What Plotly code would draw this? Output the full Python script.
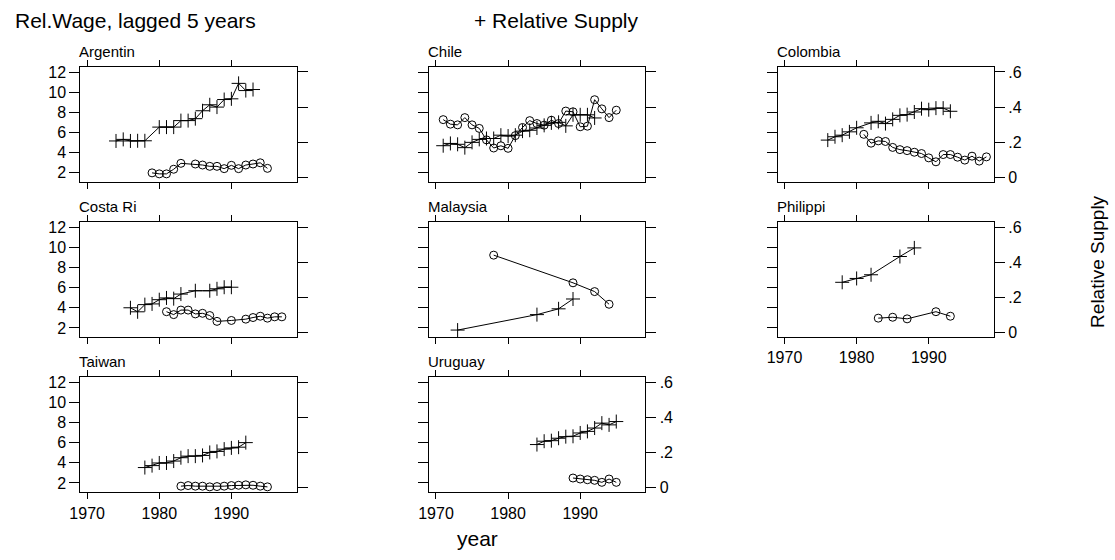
import plotly.graph_objects as go

# ---------------- data ----------------
countries = ["Argentin", "Chile", "Colombia", "Costa Ri", "Malaysia", "Philippi", "Taiwan", "Uruguay"]

# Relative Supply (+ markers, right axis)
arg_sup_years = [1974, 1975, 1976, 1977, 1978, 1980, 1981, 1982, 1983, 1984, 1985, 1986, 1987, 1988, 1989, 1990, 1991, 1992, 1993]
arg_sup = [0.207, 0.216, 0.207, 0.208, 0.208, 0.286, 0.286, 0.286, 0.323, 0.323, 0.334, 0.379, 0.413, 0.400, 0.443, 0.447, 0.535, 0.494, 0.500]
chl_sup_years = [1971, 1972, 1973, 1974, 1975, 1976, 1977, 1978, 1979, 1980, 1981, 1982, 1983, 1984, 1985, 1986, 1987, 1988, 1989, 1990, 1991, 1992]
chl_sup = [0.180, 0.193, 0.188, 0.169, 0.199, 0.216, 0.221, 0.221, 0.240, 0.235, 0.240, 0.263, 0.268, 0.281, 0.296, 0.310, 0.313, 0.293, 0.356, 0.356, 0.356, 0.338]
col_sup_years = [1976, 1977, 1978, 1979, 1980, 1982, 1983, 1984, 1985, 1986, 1987, 1988, 1989, 1990, 1991, 1992, 1993]
col_sup = [0.212, 0.231, 0.240, 0.259, 0.282, 0.310, 0.319, 0.306, 0.330, 0.353, 0.357, 0.372, 0.391, 0.385, 0.394, 0.394, 0.376]
cri_sup_years = [1976, 1977, 1978, 1979, 1980, 1981, 1982, 1983, 1985, 1987, 1988, 1989, 1990]
cri_sup = [0.140, 0.117, 0.158, 0.162, 0.186, 0.196, 0.192, 0.218, 0.237, 0.237, 0.248, 0.257, 0.257]
mys_sup_years = [1973, 1984, 1987, 1989]
mys_sup = [0.013, 0.101, 0.134, 0.190]
phl_sup_years = [1978, 1980, 1982, 1986, 1988]
phl_sup = [0.285, 0.307, 0.328, 0.432, 0.481]
twn_sup_years = [1978, 1979, 1980, 1981, 1982, 1983, 1984, 1985, 1986, 1987, 1988, 1989, 1990, 1991, 1992]
twn_sup = [0.113, 0.124, 0.139, 0.139, 0.150, 0.169, 0.178, 0.178, 0.182, 0.199, 0.205, 0.218, 0.225, 0.229, 0.255]
ury_sup_years = [1984, 1985, 1986, 1987, 1988, 1989, 1990, 1991, 1992, 1993, 1994, 1995]
ury_sup = [0.244, 0.263, 0.266, 0.280, 0.289, 0.291, 0.310, 0.319, 0.338, 0.366, 0.356, 0.375]

# Rel.Wage, lagged 5 years (o markers, left axis)
arg_wage_years = [1979, 1980, 1981, 1982, 1983, 1985, 1986, 1987, 1988, 1989, 1990, 1991, 1992, 1993, 1994, 1995]
arg_wage = [2.00, 1.90, 1.90, 2.36, 2.95, 2.88, 2.78, 2.65, 2.65, 2.42, 2.75, 2.42, 2.78, 2.88, 3.00, 2.45]
chl_wage_years = [1971, 1972, 1973, 1974, 1975, 1976, 1977, 1978, 1979, 1980, 1981, 1982, 1983, 1984, 1985, 1986, 1987, 1988, 1989, 1990, 1991, 1992, 1993, 1994, 1995]
chl_wage = [7.29, 6.84, 6.77, 7.49, 6.77, 6.42, 5.28, 4.47, 4.69, 4.44, 5.70, 6.51, 7.19, 6.90, 6.74, 7.23, 6.90, 8.14, 8.07, 6.58, 6.64, 9.27, 8.36, 7.49, 8.23]
col_wage_years = [1981, 1982, 1983, 1984, 1985, 1986, 1987, 1988, 1989, 1990, 1991, 1992, 1993, 1994, 1995, 1996, 1997, 1998]
col_wage = [5.83, 4.95, 5.18, 5.12, 4.53, 4.31, 4.21, 4.05, 3.92, 3.49, 3.10, 3.82, 3.82, 3.56, 3.27, 3.66, 3.17, 3.59]
cri_wage_years = [1981, 1982, 1983, 1984, 1985, 1986, 1987, 1988, 1990, 1992, 1993, 1994, 1995, 1996, 1997]
cri_wage = [3.61, 3.32, 3.77, 3.77, 3.39, 3.45, 3.23, 2.65, 2.74, 2.87, 3.03, 3.16, 2.97, 3.10, 3.10]
mys_wage_years = [1978, 1989, 1992, 1994]
mys_wage = [9.23, 6.48, 5.61, 4.35]
phl_wage_years = [1983, 1985, 1987, 1991, 1993]
phl_wage = [2.97, 3.06, 2.90, 3.61, 3.16]
twn_wage_years = [1983, 1984, 1985, 1986, 1987, 1988, 1989, 1990, 1991, 1992, 1993, 1994, 1995]
twn_wage = [1.68, 1.74, 1.68, 1.68, 1.61, 1.64, 1.68, 1.74, 1.77, 1.81, 1.77, 1.68, 1.61]
ury_wage_years = [1989, 1990, 1991, 1992, 1993, 1994, 1995]
ury_wage = [2.49, 2.39, 2.32, 2.26, 2.06, 2.39, 2.06]

sup_years = [arg_sup_years, chl_sup_years, col_sup_years, cri_sup_years, mys_sup_years, phl_sup_years, twn_sup_years, ury_sup_years]
sup_vals = [arg_sup, chl_sup, col_sup, cri_sup, mys_sup, phl_sup, twn_sup, ury_sup]
wage_years = [arg_wage_years, chl_wage_years, col_wage_years, cri_wage_years, mys_wage_years, phl_wage_years, twn_wage_years, ury_wage_years]
wage_vals = [arg_wage, chl_wage, col_wage, cri_wage, mys_wage, phl_wage, twn_wage, ury_wage]

x_ticks = [1970, 1980, 1990]
left_ticks = [2, 4, 6, 8, 10, 12]
right_ticks = [0, 0.2, 0.4, 0.6]
right_labels = ["0", ".2", ".4", ".6"]

# ---------------- layout geometry (pixels) ----------------
W, H = 1115, 560
col_x0 = [70, 422.3, 774.3]
box_w = 218.5
row_top = [64.5, 221.5, 378.5]
box_h = 117
grid = [(0, 0), (0, 1), (0, 2), (1, 0), (1, 1), (1, 2), (2, 0), (2, 1)]
show_left = [True, False, False, True, False, False, True, False]
show_right = [False, False, True, False, False, True, False, True]
show_x = [False, False, False, False, False, True, True, True]

FONT = "Liberation Sans, Arial, Helvetica, sans-serif"
TICKFONT = dict(size=16, family=FONT, color="black")
fig = go.Figure()
layout = dict(
    width=W, height=H, margin=dict(l=0, r=0, t=0, b=0),
    paper_bgcolor="white", plot_bgcolor="white", showlegend=False,
    font=dict(family=FONT, color="black", size=14),
    hovermode=False,
)
annotations = []

for i, name in enumerate(countries):
    r, c = grid[i]
    x0 = col_x0[c]
    x1 = x0 + box_w
    top = row_top[r]
    bot = top + box_h
    xd = [x0 / W, x1 / W]
    yd = [1 - bot / H, 1 - top / H]
    xa = "x" if i == 0 else f"x{i+1}"
    ya = f"y{2*i+1}" if i > 0 else "y"
    ya2 = f"y{2*i+2}"
    xkey = "xaxis" if i == 0 else f"xaxis{i+1}"
    ykey = "yaxis" if i == 0 else f"yaxis{2*i+1}"
    y2key = f"yaxis{2*i+2}"

    layout[xkey] = dict(
        domain=xd, anchor=ya, range=[1969.05, 1999.05],
        tickvals=x_ticks, ticktext=[str(v) for v in x_ticks],
        showticklabels=show_x[i], ticks="outside", ticklen=6, tickwidth=1, tickcolor="black",
        showline=True, linecolor="black", linewidth=1, mirror="allticks",
        showgrid=False, zeroline=False, tickfont=TICKFONT,
    )
    layout[ykey] = dict(
        domain=yd, anchor=xa, range=[1.07, 12.55],
        tickvals=left_ticks, ticktext=[str(v) for v in left_ticks],
        showticklabels=show_left[i], ticks="outside", ticklen=10, tickwidth=1, tickcolor="black",
        showline=True, linecolor="black", linewidth=1, mirror=False,
        showgrid=False, zeroline=False, tickfont=TICKFONT,
    )
    layout[y2key] = dict(
        domain=yd, anchor=xa, overlaying=ya, side="right", range=[-0.028, 0.63],
        tickvals=right_ticks, ticktext=right_labels,
        showticklabels=show_right[i], ticks="outside", ticklen=10, tickwidth=1, tickcolor="black",
        showline=True, linecolor="black", linewidth=1,
        showgrid=False, zeroline=False, tickfont=TICKFONT,
    )

    # Rel.Wage (o) on the left axis
    fig.add_trace(go.Scatter(
        x=wage_years[i], y=wage_vals[i], xaxis=xa, yaxis=ya, mode="lines+markers",
        line=dict(color="black", width=1),
        marker=dict(symbol="circle-open", size=8, color="black", line=dict(width=1, color="black")),
    ))
    # Relative Supply (+) on the right axis
    fig.add_trace(go.Scatter(
        x=sup_years[i], y=sup_vals[i], xaxis=xa, yaxis=ya2, mode="lines+markers",
        line=dict(color="black", width=1),
        marker=dict(symbol="cross-thin-open", size=10, color="black", line=dict(width=1, color="black")),
    ))

    annotations.append(dict(
        text=name, x=x0 / W, y=1 - top / H, xref="paper", yref="paper",
        xanchor="left", yanchor="bottom", yshift=5, xshift=-3, showarrow=False,
        font=dict(size=15, family=FONT, color="black"),
    ))

annotations += [
    dict(text="Rel.Wage, lagged 5 years", x=2 / W, y=1 - 18 / H, xref="paper", yref="paper",
         xanchor="left", yanchor="middle", showarrow=False, font=dict(size=21, family=FONT)),
    dict(text="+ Relative Supply", x=466 / W, y=1 - 18 / H, xref="paper", yref="paper",
         xanchor="left", yanchor="middle", showarrow=False, font=dict(size=21, family=FONT)),
    dict(text="year", x=471 / W, y=1 - 542 / H, xref="paper", yref="paper",
         xanchor="center", yanchor="middle", showarrow=False, font=dict(size=21, family=FONT)),
    dict(text="Relative Supply", x=1098 / W, y=1 - 262 / H, xref="paper", yref="paper",
         xanchor="center", yanchor="middle", textangle=-90, showarrow=False, font=dict(size=19, family=FONT)),
]
layout["annotations"] = annotations
fig.update_layout(**layout)

fig.write_html("out.html", config={"displayModeBar": False},
               post_script="document.body.style.margin='0';")
